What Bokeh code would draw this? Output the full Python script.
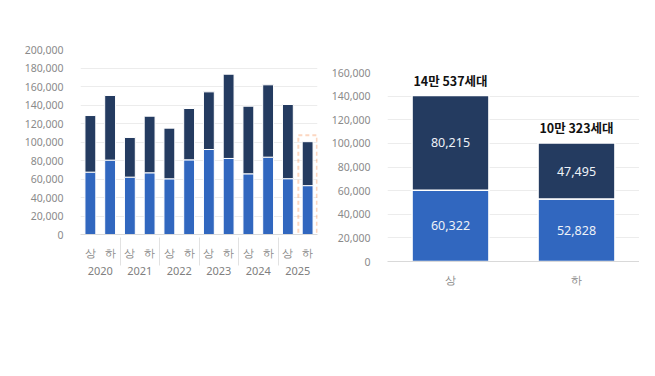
from bokeh.plotting import figure
from bokeh.models import (ColumnDataSource, FactorRange, Range1d, NumeralTickFormatter,
                          SingleIntervalTicker, BoxAnnotation, Label)
from bokeh.layouts import row
from bokeh.core.properties import value
from bokeh.embed import file_html
from bokeh.resources import INLINE

# ---------------- data ----------------
years = ["2020", "2021", "2022", "2023", "2024", "2025"]
halves = ["상", "하"]
metro_hist = [67400, 80400, 62000, 66700, 60200, 80700, 91900, 82200, 65600, 83600, 60322, 52828]
local_hist = [61200, 69900, 42900, 61200, 54800, 55500, 62300, 91100, 73100, 78200, 80215, 47495]

cmp_halves = ["상", "하"]
metro_2025 = [60322, 52828]
local_2025 = [80215, 47495]

series_labels = ["수도권", "지방"]
title_text = "[그림 1] 반기별 아파트 입주물량 추이 및 올해 상,하반기입주물량비교"
logo_text = "zigbang"
notes = ["주) 임대단지 및 연립 제외 / 총세대수 30 세대 이상 아파트만 포함 / 단위: 세대",
         "주) 상기 자료는 2025 년 6 월 2 주차 조사 기준으로 관련업체 사정에 따라 변경될 수 있음."]

# ---------------- style ----------------
KR = "Noto Sans CJK KR"
AXF = "Noto Sans"
C_M = "#3167BF"
C_L = "#243B60"
COLORS = [C_M, C_L]
AX_TXT = "#8a8a8a"
GRID = "#ececec"
PANEL = "#e4e4e4"

H = 360
W_L, W_R = 328, 311


def canvas_label(p, x, y, text, **kw):
    # canvas units: pixels from the canvas top-left corner
    p.add_layout(Label(x=x, y=y, x_units="canvas", y_units="canvas", text=text,
                       text_baseline="middle", **kw))


def panel_box(p, l, r, t, b):
    p.add_layout(BoxAnnotation(left=l, right=r, top=t, bottom=b,
                               left_units="canvas", right_units="canvas",
                               top_units="canvas", bottom_units="canvas",
                               fill_alpha=0, line_color=PANEL, line_width=1))


def legend_row(p, x_positions, y):
    for xpos, lab, col in zip(x_positions, series_labels, COLORS):
        canvas_label(p, xpos, y, "■", text_font="DejaVu Sans", text_font_size="6px",
                     text_color=col)
        canvas_label(p, xpos + 6, y, lab, text_font=KR, text_font_size="9px",
                     text_color="#777777")


def style_y(ax):
    ax.ticker = SingleIntervalTicker(interval=20000)
    ax.formatter = NumeralTickFormatter(format="0,0")
    ax.axis_line_color = None
    ax.major_tick_line_color = None
    ax.minor_tick_line_color = None
    ax.major_label_standoff = 11
    ax.major_label_text_font = AXF
    ax.major_label_text_font_size = "10.5px"
    ax.major_label_text_color = AX_TXT


# ---------------- left chart ----------------
factors = [(y, h) for y in years for h in halves]
src_l = ColumnDataSource(dict(x=factors, metro=metro_hist, local=local_hist))
pl = figure(width=W_L, height=H,
            x_range=FactorRange(*factors, group_padding=0, range_padding=0),
            y_range=Range1d(0, 200000), output_backend="svg", toolbar_location=None,
            min_border_left=80, min_border_right=11, min_border_top=49, min_border_bottom=126,
            frame_align=False)
rl = pl.vbar_stack(["metro", "local"], x="x", width=0.55, source=src_l,
                   color=COLORS, line_color="#ffffff", line_width=1)
pl.outline_line_color = None
pl.xgrid.visible = False
pl.ygrid.grid_line_color = GRID
style_y(pl.yaxis[0])
xa = pl.xaxis[0]
xa.axis_line_color = "#d9d9d9"
xa.major_tick_line_color = None
xa.major_label_standoff = 4
xa.major_label_text_font = AXF
xa.major_label_text_font_size = "11px"
xa.major_label_text_color = AX_TXT
xa.group_text_font = AXF
xa.group_text_font_size = "11px"
xa.group_text_font_style = "normal"
xa.group_text_color = "#808080"
xa.separator_line_color = "#e2e2e2"
xa.separator_line_width = 1

last = len(factors) - 1
pl.add_layout(BoxAnnotation(left=last + 0.03, right=last + 0.97,
                            top=metro_hist[-1] + local_hist[-1] + 7000, bottom=-8500,
                            fill_alpha=0, line_color="#F47A32", line_width=2, line_dash="4 3"))

legend_row(pl, [159, 197], 300)
panel_box(pl, 24.5, 327.5, 26.5, 315.5)
canvas_label(pl, 17, 7, title_text, text_font=KR, text_font_size="10.3px", text_color="#333333")
canvas_label(pl, 20, 335, notes[0], text_font=KR, text_font_size="7.5px", text_color="#9a9a9a")
canvas_label(pl, 20, 352, notes[1], text_font=KR, text_font_size="7.5px", text_color="#9a9a9a")

# ---------------- right chart ----------------
tot_2025 = [m + l for m, l in zip(metro_2025, local_2025)]
src_r = ColumnDataSource(dict(
    x=cmp_halves, metro=metro_2025, local=local_2025,
    mid_m=[m / 2 for m in metro_2025],
    mid_l=[m + l / 2 for m, l in zip(metro_2025, local_2025)],
    lbl_m=[f"{m:,}" for m in metro_2025],
    lbl_l=[f"{l:,}" for l in local_2025],
    tot=tot_2025,
    lbl_t=[f"{t // 10000}만 {t % 10000}세대" for t in tot_2025],
))
pr = figure(width=W_R, height=H, x_range=FactorRange(*cmp_halves, range_padding=0),
            y_range=Range1d(0, 160000), output_backend="svg", toolbar_location=None,
            min_border_left=57, min_border_right=0, min_border_top=72, min_border_bottom=99,
            frame_align=False)
rr = pr.vbar_stack(["metro", "local"], x="x", width=0.61, source=src_r,
                   color=COLORS, line_color="#ffffff", line_width=1.5)
pr.text(x="x", y="mid_m", text="lbl_m", source=src_r, text_align="center", text_baseline="middle",
        text_color="#eef2f8", text_font=value(AXF), text_font_size="12.5px")
pr.text(x="x", y="mid_l", text="lbl_l", source=src_r, text_align="center", text_baseline="middle",
        text_color="#eef2f8", text_font=value(AXF), text_font_size="12.5px")
pr.text(x="x", y="tot", text="lbl_t", source=src_r, text_align="center", text_baseline="middle",
        y_offset=-15, text_color="#111111", text_font=value(KR), text_font_size="12.5px",
        text_font_style="bold")
pr.outline_line_color = None
pr.xgrid.visible = False
pr.ygrid.grid_line_color = GRID
style_y(pr.yaxis[0])
pr.xaxis.axis_line_color = "#d9d9d9"
pr.xaxis.major_tick_line_color = None
pr.xaxis.major_label_standoff = 4
pr.xaxis.major_label_text_font = AXF
pr.xaxis.major_label_text_font_size = "11px"
pr.xaxis.major_label_text_color = AX_TXT

legend_row(pr, [142, 196], 290)
panel_box(pr, 2.5, 330, 26.5, 317.5)
canvas_label(pr, 217, 6, "◇", text_font="DejaVu Sans", text_font_size="17px", text_color="#c8c8c8")
canvas_label(pr, 242, 6, logo_text, text_font="Lato", text_font_size="19px",
             text_font_style="bold", text_color="#c6c6c6")

layout = row(pl, pr, spacing=0)
open("out.html", "w").write(file_html(layout, INLINE))
